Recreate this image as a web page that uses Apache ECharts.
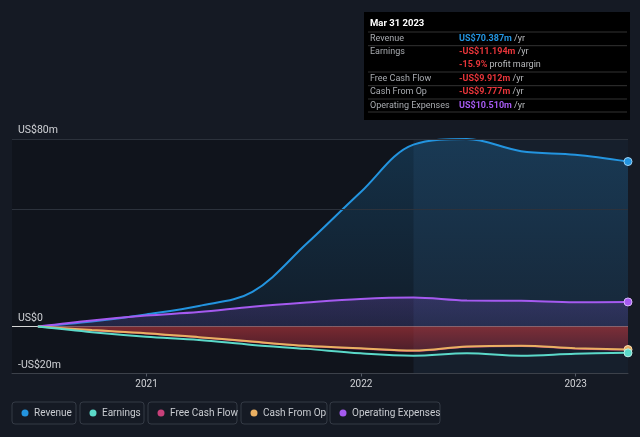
<!DOCTYPE html>
<html>
<head>
<meta charset="utf-8">
<script src="https://cdn.jsdelivr.net/npm/echarts@6/dist/echarts.min.js"></script>
<style>
html,body{margin:0;padding:0;background:#151a24;}
#chart{width:640px;height:437px;}
</style>
</head>
<body>
<div id="chart"></div>
<script>
// ---- data (US$ millions, trailing twelve months) ----
const dates = ['2020-06-30','2020-09-30','2020-12-31','2021-03-31','2021-06-30','2021-09-30','2021-12-31','2022-03-31','2022-06-30','2022-09-30','2022-12-31','2023-03-31'];
const revenue = [0, 2.2, 5.2, 8.8, 14.8, 35.3, 57.3, 77.6, 80.0, 74.8, 73.3, 70.387];
const earnings = [0, -2.4, -4.3, -5.7, -7.8, -9.5, -11.4, -12.4, -11.4, -12.4, -11.6, -11.194];
const freeCashFlow = [0, -1.7, -3.0, -4.7, -6.6, -8.4, -9.4, -10.4, -8.7, -8.4, -9.4, -9.912];
const cashFromOp = [0, -1.5, -2.8, -4.5, -6.4, -8.2, -9.2, -10.2, -8.5, -8.2, -9.2, -9.777];
const opex = [0, 2.6, 4.7, 6.2, 8.5, 10.3, 11.8, 12.4, 11.1, 11.0, 10.4, 10.51];
const yTickLabels = {'-20':'-US$20m','0':'US$0','80':'US$80m'};
const gridValues = [80, 50];
const axisStart = '2020-05-17';
const axisEnd = '2023-03-31';
const highlightStart = '2022-03-31';
const legendNames = ['Revenue','Earnings','Free Cash Flow','Cash From Op','Operating Expenses'];
const tipTitle = 'Mar 31 2023';
const tipRows = [
  ['Revenue','US$70.387m','/yr','#2394df'],
  ['Earnings','-US$11.194m','/yr','#e8353a'],
  ['','-15.9%','profit margin','#e8353a'],
  ['Free Cash Flow','-US$9.912m','/yr','#e8353a'],
  ['Cash From Op','-US$9.777m','/yr','#e8353a'],
  ['Operating Expenses','US$10.510m','/yr','#a55af0']
];

const colors = {
  rev:'#2394df', earn:'#5bd9c9', fcf:'#c8407a', cfo:'#eab062', opex:'#a55af0'
};
const legendColors = ['#2394df','#5bd9c9','#c8407a','#eab062','#a55af0'];

function pts(arr){
  return arr.map((v,i)=> i===arr.length-1 ? {value:[dates[i],v], symbol:'circle', symbolSize:8} : {value:[dates[i],v], symbol:'none'});
}

const FONT = 'Roboto, "Noto Sans", sans-serif';
const chart = echarts.init(document.getElementById('chart'), null, {renderer:'canvas'});

// legend boxes
const legendBoxes = [[12,64],[80,64],[148,89],[241,86],[330,110]];
const legendGraphics = [];
legendNames.forEach((n,i)=>{
  const [x,w] = legendBoxes[i];
  legendGraphics.push({type:'rect', shape:{x:x,y:402,width:w,height:22,r:3}, style:{fill:'rgba(0,0,0,0)',stroke:'#343a45',lineWidth:1}, silent:true});
  legendGraphics.push({type:'circle', shape:{cx:x+13,cy:413,r:3.5}, style:{fill:legendColors[i]}, silent:true});
  legendGraphics.push({type:'text', x:x+22, y:413, style:{text:n, fill:'#c9ccd1', font:'10px '+FONT, textVerticalAlign:'middle'}, silent:true});
});

// tooltip-like box
const tipGraphics = [];
tipGraphics.push({type:'rect', shape:{x:364,y:12,width:266,height:108}, style:{fill:'#000000'}, silent:true});
tipGraphics.push({type:'text', x:370, y:24, style:{text:tipTitle, fill:'#ffffff', font:'bold 9.5px '+FONT, textVerticalAlign:'middle'}, silent:true});
const rowY = [38.7, 52, 64.7, 78.3, 92, 105.7];
const sepY = [32, 45.7, 72, 85.7, 99, 112];
sepY.forEach(y=>tipGraphics.push({type:'line', shape:{x1:368,y1:y,x2:627,y2:y}, style:{stroke:'#333333',lineWidth:1}, silent:true}));
tipRows.forEach((r,i)=>{
  if(r[0]) tipGraphics.push({type:'text', x:370, y:rowY[i], style:{text:r[0], fill:'#a8abb0', font:'9px '+FONT, textVerticalAlign:'middle'}, silent:true});
  tipGraphics.push({type:'text', x:459, y:rowY[i], style:{text:'{v|'+r[1]+'} {u|'+r[2]+'}', font:'9px '+FONT, textVerticalAlign:'middle',
    rich:{v:{fill:r[3], font:'bold 9px '+FONT}, u:{fill:'#b8babd', font:'9px '+FONT}}}, silent:true});
});

const option = {
  backgroundColor:'#151a24',
  animation:false,
  grid:{left:12, right:12, top:139, bottom:63.5},
  xAxis:{
    type:'time', min:axisStart, max:axisEnd,
    minInterval: 365*24*3600*1000,
    splitLine:{show:false},
    axisLine:{onZero:false, lineStyle:{color:'#3c414a'}},
    axisTick:{show:true, length:3, lineStyle:{color:'#555b66'}},
    axisLabel:{formatter:'{yyyy}', color:'#d0d2d6', fontSize:10, fontFamily:FONT, margin:6, showMinLabel:false, showMaxLabel:false}
  },
  yAxis:{
    type:'value', min:-20, max:80, interval:10,
    splitLine:{show:false},
    axisLine:{show:false}, axisTick:{show:false},
    axisLabel:{inside:true, align:'left', verticalAlign:'bottom', margin:6, padding:[0,0,3,0],
      color:'#d0d2d6', fontSize:10.5, fontFamily:FONT,
      formatter:(v)=> yTickLabels[String(v)] || ''}
  },
  graphic: legendGraphics.concat(tipGraphics),
  series:[
    {name:'_bg', type:'line', data:[], z:0, silent:true,
     markArea:{silent:true, z:0, data:[
        [{xAxis:axisStart, itemStyle:{color:'rgba(0,0,0,0.22)'}},{xAxis:highlightStart}],
        [{xAxis:highlightStart, itemStyle:{color:'rgba(40,80,120,0.10)'}},{xAxis:axisEnd}]
     ]},
     markLine:{silent:true, symbol:'none', label:{show:false},
       data: gridValues.map(v=>({yAxis:v, lineStyle:{color:'#2c323c', width:1, type:'solid'}}))}
    },
    {name:'Revenue', type:'line', smooth:0.35, data:pts(revenue), z:2,
     lineStyle:{color:colors.rev, width:2}, itemStyle:{color:colors.rev, borderColor:'#9fd3f5', borderWidth:1},
     areaStyle:{color:new echarts.graphic.LinearGradient(0,0,0,1,[{offset:0,color:'rgba(35,148,223,0.32)'},{offset:1,color:'rgba(35,148,223,0.10)'}])},
     markLine:{silent:true, symbol:'none', label:{show:false},
       data: [
         [{coord:[axisStart,0], lineStyle:{color:'rgba(235,235,235,0.9)', width:1, type:'solid'}},{coord:[dates[0],0]}],
         [{coord:[dates[0],0], lineStyle:{color:'rgba(235,200,200,0.35)', width:1, type:'solid'}},{coord:[axisEnd,0]}]
       ]}
    },
    {name:'Operating Expenses', type:'line', smooth:0.35, data:pts(opex), z:3,
     lineStyle:{color:colors.opex, width:2}, itemStyle:{color:colors.opex, borderColor:'#d8b8fa', borderWidth:1},
     areaStyle:{color:new echarts.graphic.LinearGradient(0,0,0,1,[{offset:0,color:'rgba(150,90,230,0.30)'},{offset:1,color:'rgba(120,80,200,0.24)'}])}
    },
    {name:'Free Cash Flow', type:'line', smooth:0.35, data:pts(freeCashFlow), z:4,
     lineStyle:{color:colors.fcf, width:1.5}, itemStyle:{color:colors.fcf},
     areaStyle:{color:new echarts.graphic.LinearGradient(0,0,0,1,[{offset:0,color:'rgba(205,58,64,0.80)'},{offset:1,color:'rgba(175,48,66,0.55)'}])}
    },
    {name:'Cash From Op', type:'line', smooth:0.35, data:pts(cashFromOp), z:5,
     lineStyle:{color:colors.cfo, width:2}, itemStyle:{color:colors.cfo, borderColor:'#f6dcb0', borderWidth:1}
    },
    {name:'Earnings', type:'line', smooth:0.35, data:pts(earnings), z:6,
     lineStyle:{color:colors.earn, width:2}, itemStyle:{color:colors.earn, borderColor:'#bff2ea', borderWidth:1}
    }
  ]
};
chart.setOption(option);
</script>
</body>
</html>
